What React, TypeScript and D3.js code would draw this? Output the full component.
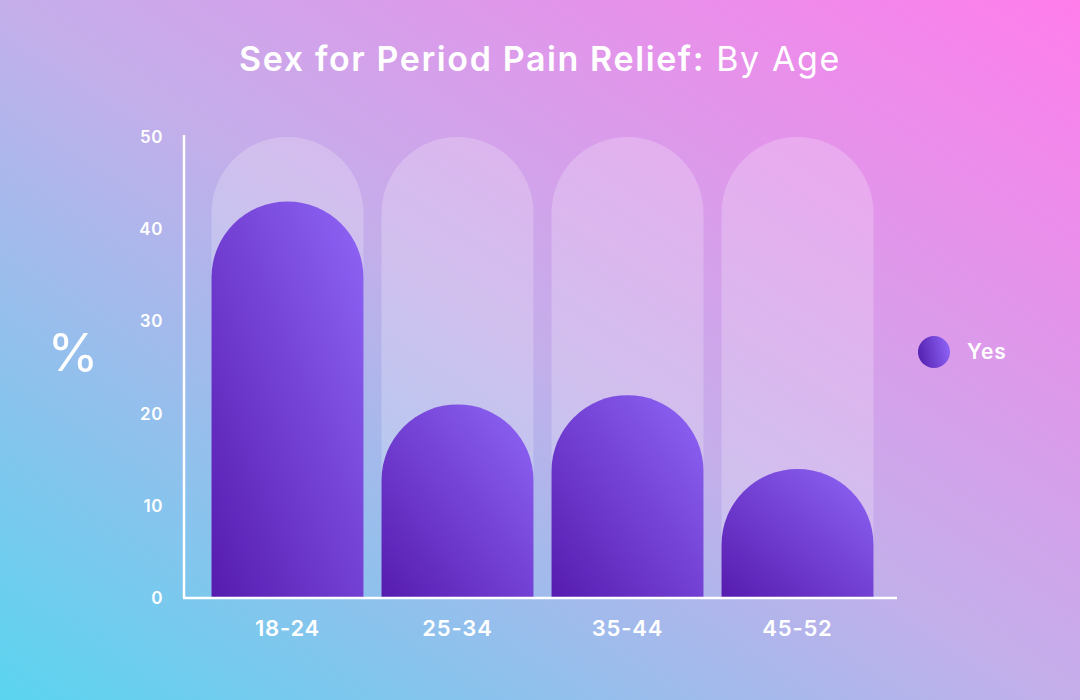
import React from "react";
import * as d3 from "d3";

const categories = ["18-24", "25-34", "35-44", "45-52"];
const yesValues = [43, 21, 22, 14];
const maxValue = 50;
const yTicks = [0, 10, 20, 30, 40, 50];
const seriesName = "Yes";

const W = 1080;
const H = 700;
const FONT = "Inter, 'Noto Sans', sans-serif";

function archPath(x: number, w: number, yTop: number, yBase: number) {
  const r = w / 2;
  const sideTop = Math.min(yTop + r, yBase);
  return `M${x},${yBase} L${x},${sideTop} A${r},${r} 0 0 1 ${x + w},${sideTop} L${x + w},${yBase} Z`;
}

export default function App() {
  const x = d3.scaleBand<string>().domain(categories).range([203, 882]).paddingInner(0.106).paddingOuter(0.05);
  const y = d3.scaleLinear().domain([0, maxValue]).range([598, 137]);
  const bw = x.bandwidth();

  return (
    <svg width={W} height={H} style={{ position: "absolute", left: 0, top: 0 }} fontFamily={FONT}>
      <defs>
        <linearGradient id="bg" x1="0" y1="1" x2="1" y2="0">
          <stop offset="0" stopColor="#5ad4ef" />
          <stop offset="0.5" stopColor="#c4aeea" />
          <stop offset="1" stopColor="#ff7deb" />
        </linearGradient>
        <linearGradient id="barGrad" x1="0" y1="1" x2="1" y2="0">
          <stop offset="0" stopColor="#561baf" />
          <stop offset="1" stopColor="#8f66f7" />
        </linearGradient>
        <linearGradient id="legGrad" x1="0" y1="0.6" x2="1" y2="0.4">
          <stop offset="0" stopColor="#5421b0" />
          <stop offset="1" stopColor="#8e63f5" />
        </linearGradient>
      </defs>
      <rect x={0} y={0} width={W} height={H} fill="url(#bg)" />

      <text x={540} y={71} textAnchor="middle" fill="#ffffff" fontSize={34} letterSpacing={1.6}>
        <tspan fontWeight={600}>Sex for Period Pain Relief:</tspan>
        <tspan fontWeight={400}> By Age</tspan>
      </text>

      {categories.map((c) => (
        <path key={"bg" + c} d={archPath(x(c)!, bw, y(maxValue), y(0))} fill="#ffffff" fillOpacity={0.22} />
      ))}
      {categories.map((c, i) => (
        <path key={"b" + c} d={archPath(x(c)!, bw, y(yesValues[i]), y(0))} fill="url(#barGrad)" />
      ))}

      <line x1={184} x2={184} y1={y(maxValue) - 2} y2={y(0)} stroke="#ffffff" strokeWidth={2.5} />
      <line x1={183} x2={897} y1={y(0)} y2={y(0)} stroke="#ffffff" strokeWidth={2.5} />

      {yTicks.map((t) => (
        <text key={t} x={163} y={y(t)} dy="0.35em" textAnchor="end" fill="#ffffff" fontSize={17} fontWeight={600} letterSpacing={0.6}>
          {t}
        </text>
      ))}
      {categories.map((c) => (
        <text key={"l" + c} x={x(c)! + bw / 2} y={636} textAnchor="middle" fill="#ffffff" fontSize={22} fontWeight={600} letterSpacing={0.8}>
          {c}
        </text>
      ))}

      <text x={73} y={371} textAnchor="middle" fill="#ffffff" fontSize={52} fontWeight={400}>%</text>

      <circle cx={934} cy={352} r={16} fill="url(#legGrad)" />
      <text x={967} y={352} dy="0.35em" fill="#ffffff" fontSize={21} fontWeight={600} letterSpacing={1}>{seriesName}</text>
    </svg>
  );
}
